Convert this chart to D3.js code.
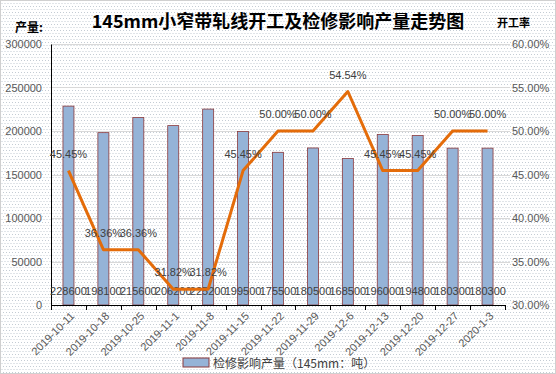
<!DOCTYPE html>
<html>
<head>
<meta charset="utf-8">
<script src="https://cdn.jsdelivr.net/npm/d3@7"></script>
<style>
  body { margin: 0; background: #fff; }
  text { font-family: "Liberation Sans", Arial, sans-serif; }
</style>
</head>
<body>
<div class="bg"></div>
<script>
const dates = ["2019-10-11", "2019-10-18", "2019-10-25", "2019-11-1", "2019-11-8", "2019-11-15",
  "2019-11-22", "2019-11-29", "2019-12-6", "2019-12-13", "2019-12-20", "2019-12-27", "2020-1-3"];
const output = [228600, 198100, 215600, 206200, 225200, 199500, 175500, 180500, 168500, 196000, 194800, 180300, 180300];
const rate = [45.45, 36.36, 36.36, 31.82, 31.82, 45.45, 50.00, 50.00, 54.54, 45.45, 45.45, 50.00, 50.00];
const leftTicks = [0, 50000, 100000, 150000, 200000, 250000, 300000];
const rightTicks = [30, 35, 40, 45, 50, 55, 60];

const W = 556, H = 374;
const margin = { top: 44, right: 51, bottom: 69, left: 51 };
const width = W - margin.left - margin.right;
const height = H - margin.top - margin.bottom;

const root = d3.select(".bg").append("svg")
  .attr("width", W)
  .attr("height", H);

// dotted background like the office chart area
const pat = root.append("defs").append("pattern")
  .attr("id", "dots")
  .attr("width", 3).attr("height", 6)
  .attr("patternUnits", "userSpaceOnUse");
pat.append("rect").attr("width", 3).attr("height", 6).attr("fill", "#fff");
pat.append("rect").attr("x", 0).attr("y", 0).attr("width", 1).attr("height", 1).attr("fill", "#c4ccd4");
pat.append("rect").attr("x", 1.5).attr("y", 3).attr("width", 1).attr("height", 1).attr("fill", "#c4ccd4");

root.append("rect")
  .attr("x", 0.5).attr("y", 0.5)
  .attr("width", W - 1).attr("height", H - 1)
  .attr("fill", "url(#dots)")
  .attr("stroke", "#d0d0d0");

const svg = root.append("g")
  .attr("transform", "translate(" + margin.left + "," + margin.top + ")");

const x = d3.scaleBand().domain(dates).range([0, width]);
const y = d3.scaleLinear().domain([0, 300000]).range([height, 0]);
const y2 = d3.scaleLinear().domain([30, 60]).range([height, 0]);

// gridlines
svg.selectAll(".grid")
  .data(leftTicks.slice(1))
  .enter().append("line")
  .attr("x1", 0).attr("x2", width + 5)
  .attr("y1", d => Math.round(y(d)) + 0.5)
  .attr("y2", d => Math.round(y(d)) + 0.5)
  .attr("stroke", "#d9d9d9");

// left axis
const yAxis = svg.append("g")
  .call(d3.axisLeft(y).tickValues(leftTicks).tickSize(0).tickPadding(9).tickFormat(d3.format("d")));
yAxis.select(".domain").attr("stroke", "#000");
yAxis.selectAll("text").attr("fill", "#595959").style("font-size", "11px");

// right axis
const y2Axis = svg.append("g")
  .attr("transform", "translate(" + width + ",0)")
  .call(d3.axisRight(y2).tickValues(rightTicks).tickSize(0).tickPadding(7).tickFormat(d => d.toFixed(2) + "%"));
y2Axis.select(".domain").remove();
y2Axis.selectAll("text").attr("fill", "#595959").style("font-size", "11px");

// bars
const bw = 11;
svg.selectAll(".bar")
  .data(output)
  .enter().append("rect")
  .attr("class", "bar")
  .attr("x", (d, i) => x(dates[i]) + x.bandwidth() / 2 - bw / 2)
  .attr("y", d => y(d))
  .attr("width", bw)
  .attr("height", d => height - y(d))
  .attr("fill", "#95b3d7")
  .attr("stroke", "#8c3a3c")
  .attr("stroke-width", 0.8);

// bottom axis
const xAxis = svg.append("g")
  .attr("transform", "translate(0," + height + ")")
  .call(d3.axisBottom(x).tickSize(0).tickPadding(0));
xAxis.select(".domain").attr("stroke", "#000");
xAxis.selectAll(".tick text")
  .attr("fill", "#595959")
  .style("font-size", "11px")
  .attr("text-anchor", "end")
  .attr("transform", "translate(4,9) rotate(-45)")
  .attr("dy", "0.35em")
  .attr("y", 0);
svg.append("g").selectAll("line")
  .data(d3.range(dates.length + 1))
  .enter().append("line")
  .attr("x1", i => Math.round(i * x.step()) + 0.5)
  .attr("x2", i => Math.round(i * x.step()) + 0.5)
  .attr("y1", height).attr("y2", height + 5)
  .attr("stroke", "#000");

// bar value labels
svg.selectAll(".blabel")
  .data(output)
  .enter().append("text")
  .attr("x", (d, i) => x(dates[i]) + x.bandwidth() / 2)
  .attr("y", height - 10)
  .attr("text-anchor", "middle")
  .attr("fill", "#404040")
  .style("font-size", "11px")
  .text(d => d);

// line
const line = d3.line()
  .x((d, i) => x(dates[i]) + x.bandwidth() / 2)
  .y(d => y2(d));
svg.append("path")
  .datum(rate)
  .attr("d", line)
  .attr("fill", "none")
  .attr("stroke", "#e46c0a")
  .attr("stroke-width", 3)
  .attr("stroke-linejoin", "round");

svg.selectAll(".llabel")
  .data(rate)
  .enter().append("text")
  .attr("x", (d, i) => x(dates[i]) + x.bandwidth() / 2)
  .attr("y", d => y2(d) - 13)
  .attr("text-anchor", "middle")
  .attr("fill", "#404040")
  .style("font-size", "11px")
  .text(d => d.toFixed(2) + "%");

// title and axis names
root.append("text")
  .attr("x", 278).attr("y", 28)
  .attr("text-anchor", "middle")
  .style("font-family", "'Noto Sans CJK SC', sans-serif")
  .style("font-size", "18px")
  .style("font-weight", "bold")
  .attr("fill", "#000")
  .text("145mm小窄带轧线开工及检修影响产量走势图");
root.append("text")
  .attr("x", 15).attr("y", 32)
  .style("font-family", "'Noto Sans CJK SC', sans-serif")
  .style("font-size", "12px")
  .style("font-weight", "bold")
  .text("产量:");
root.append("text")
  .attr("x", 497).attr("y", 27)
  .style("font-family", "'Noto Sans CJK SC', sans-serif")
  .style("font-size", "11px")
  .style("font-weight", "bold")
  .text("开工率");

// legend
const lg = root.append("g").attr("transform", "translate(183,358)");
lg.append("rect")
  .attr("width", 26).attr("height", 9)
  .attr("fill", "#95b3d7")
  .attr("stroke", "#8c3a3c");
lg.append("text")
  .attr("x", 30).attr("y", 9.5)
  .attr("fill", "#404040")
  .style("font-family", "'Noto Sans CJK SC', sans-serif")
  .style("font-size", "12px")
  .text("检修影响产量（145mm：吨）");
</script>
</body>
</html>
